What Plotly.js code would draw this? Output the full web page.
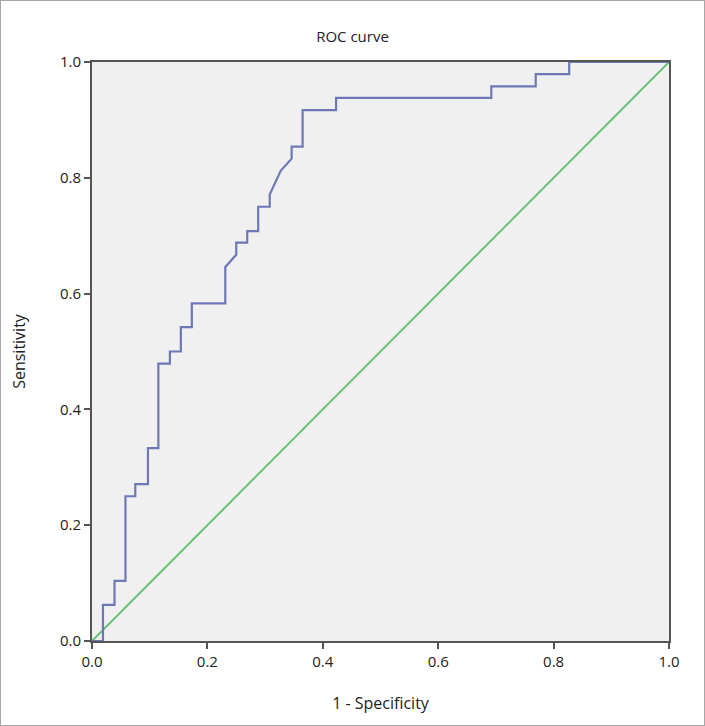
<!DOCTYPE html>
<html>
<head>
<meta charset="utf-8">
<script src="https://cdn.plot.ly/plotly-3.0.1.min.js"></script>
<style>
html,body{margin:0;padding:0;background:#fff;}
#frame{width:705px;height:726px;box-sizing:border-box;border:1px solid #a6a6a6;}
#chart{width:703px;height:724px;}
</style>
</head>
<body>
<div id="frame"><div id="chart"></div></div>
<script>
// ROC curve corner points (1 - specificity, sensitivity)
var rocFpr = [0, 0.019, 0.019, 0.039, 0.039, 0.058, 0.058, 0.075, 0.075, 0.097, 0.097, 0.115, 0.115, 0.135, 0.135, 0.154, 0.154, 0.173, 0.173, 0.231, 0.231, 0.250, 0.250, 0.269, 0.269, 0.288, 0.288, 0.308, 0.308, 0.327, 0.346, 0.346, 0.365, 0.365, 0.423, 0.423, 0.692, 0.692, 0.769, 0.769, 0.827, 0.827, 1.0];
var rocTpr = [0, 0, 0.0625, 0.0625, 0.104, 0.104, 0.25, 0.25, 0.271, 0.271, 0.333, 0.333, 0.479, 0.479, 0.5, 0.5, 0.542, 0.542, 0.583, 0.583, 0.646, 0.667, 0.688, 0.688, 0.708, 0.708, 0.75, 0.75, 0.771, 0.812, 0.833, 0.854, 0.854, 0.917, 0.917, 0.938, 0.938, 0.958, 0.958, 0.979, 0.979, 1.0, 1.0];
// Reference (chance) line
var refX = [0, 1];
var refY = [0, 1];
var tickVals = [0, 0.2, 0.4, 0.6, 0.8, 1.0];
var tickText = ["0.0", "0.2", "0.4", "0.6", "0.8", "1.0"];

var font = "Open Sans, Noto Sans, sans-serif";

var traces = [
  {x: refX, y: refY, mode: "lines", line: {color: "#6cc07a", width: 2}, hoverinfo: "skip", showlegend: false},
  {x: rocFpr, y: rocTpr, mode: "lines", line: {color: "#6e78b6", width: 2.2}, showlegend: false}
];

var axisCommon = {
  range: [0, 1],
  tickvals: tickVals,
  ticktext: tickText,
  ticks: "outside",
  ticklen: 6,
  tickwidth: 2,
  tickcolor: "#555",
  showline: true,
  linecolor: "#555",
  linewidth: 2,
  mirror: true,
  showgrid: false,
  zeroline: false,
  tickfont: {family: font, size: 15, color: "#222"}
};

var layout = {
  width: 703, height: 724,
  margin: {l: 91, r: 35, t: 61, b: 84},
  paper_bgcolor: "#ffffff",
  plot_bgcolor: "#f0f0f0",
  title: {text: "ROC curve", font: {family: font, size: 15, color: "#222"}, x: 0.5, xanchor: "center", y: 0.951, yanchor: "middle"},
  xaxis: Object.assign({}, axisCommon, {title: {text: "1 - Specificity", font: {family: font, size: 16, color: "#222"}, standoff: 28}}),
  yaxis: Object.assign({}, axisCommon, {title: {text: "Sensitivity", font: {family: font, size: 16, color: "#222"}, standoff: 30}}),
  showlegend: false
};

Plotly.newPlot("chart", traces, layout, {displayModeBar: false, staticPlot: true});
</script>
</body>
</html>
